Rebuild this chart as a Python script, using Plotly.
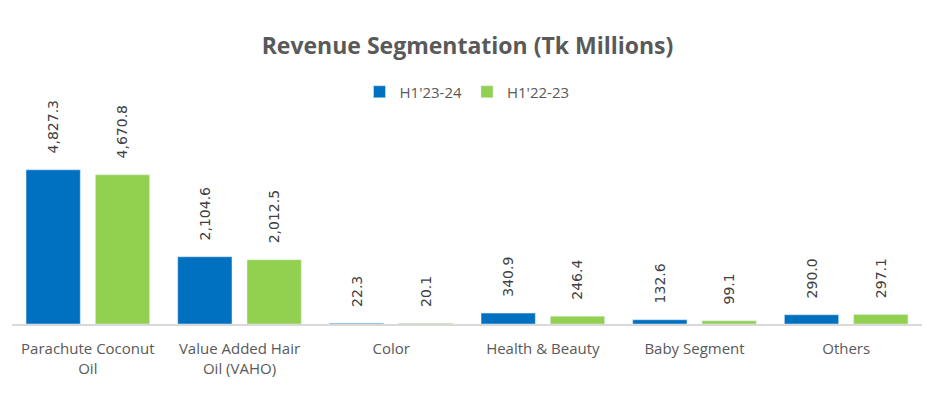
import plotly.graph_objects as go

categories = ["Parachute Coconut<br>Oil", "Value Added Hair<br>Oil (VAHO)", "Color",
              "Health & Beauty", "Baby Segment", "Others"]
h1_23_24 = [4827.3, 2104.6, 22.3, 340.9, 132.6, 290.0]
h1_22_23 = [4670.8, 2012.5, 20.1, 246.4, 99.1, 297.1]
series_names = ["H1'23-24", "H1'22-23"]
colors = ["#0070C0", "#92D050"]

PAD = "\u00a0\u00a0\u00a0"

fig = go.Figure()
for name, vals, col in zip(series_names, [h1_23_24, h1_22_23], colors):
    fig.add_trace(go.Bar(
        x=categories, y=vals, name=name, marker_color=col,
        text=[PAD + f"{v:,.1f}" for v in vals], textposition="outside",
        textangle=-90, constraintext="none", cliponaxis=False,
        textfont=dict(family="DejaVu Sans", size=14, color="#404040"),
    ))

fig.update_layout(
    width=935, height=397,
    margin=dict(l=12, r=13, t=110, b=73, autoexpand=False),
    paper_bgcolor="white", plot_bgcolor="white",
    barmode="group", bargap=0.086, bargroupgap=0.217,
    title=dict(text="<b>Revenue Segmentation (Tk Millions)</b>", x=0.5, xanchor="center",
               y=1 - 46 / 397, yanchor="middle", yref="container",
               font=dict(family="Open Sans", size=23, color="#595959")),
    legend=dict(orientation="h", x=0.5, xanchor="center", y=1 - 92 / 397, yanchor="middle",
                yref="container",
                font=dict(family="Open Sans", size=15, color="#595959"),
                itemwidth=30, traceorder="normal"),
    xaxis=dict(showline=True, linecolor="#D9D9D9", linewidth=2, ticks="",
               automargin=False, ticklabelstandoff=10,
               tickfont=dict(family="Open Sans", size=15, color="#595959"), showgrid=False),
    yaxis=dict(visible=False, range=[0, 6700], showgrid=False, automargin=False),
)
fig.write_html("out.html", config={"displayModeBar": False},
               post_script="document.body.style.margin='0';document.body.style.padding='0';")
